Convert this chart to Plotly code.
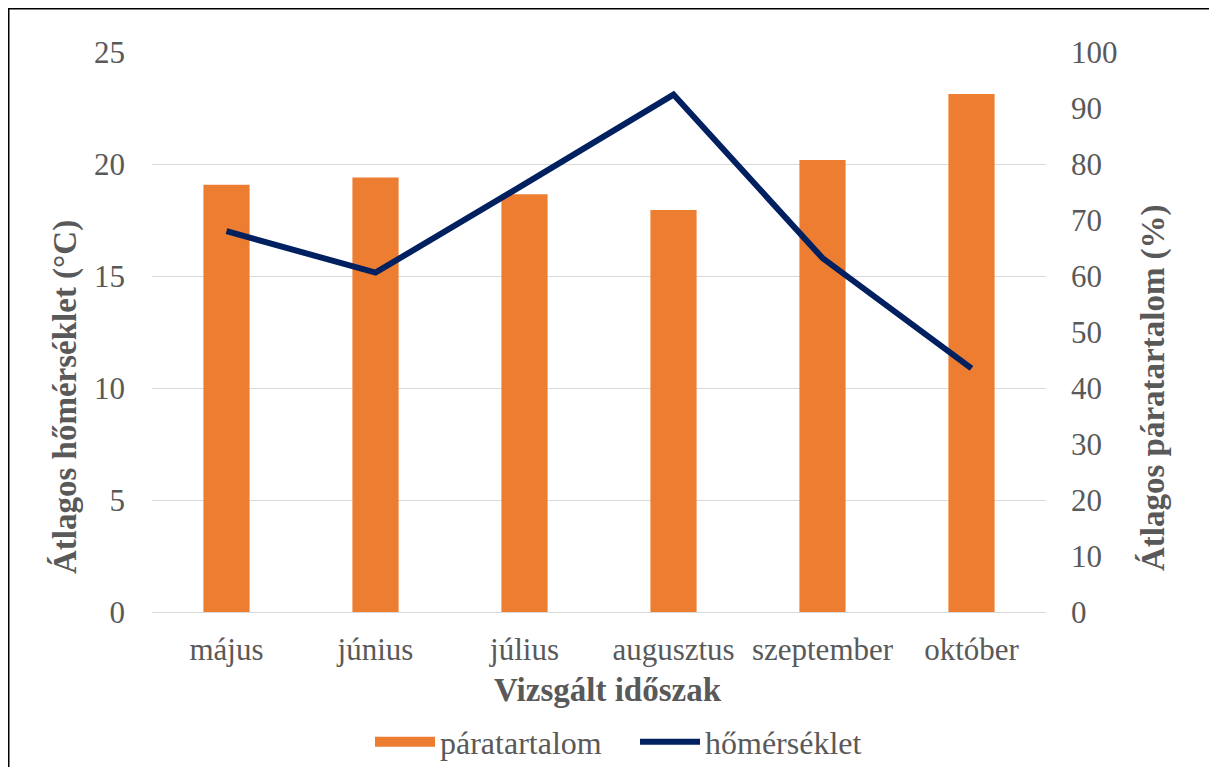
import plotly.graph_objects as go

# months on the x axis
honapok = ["május", "június", "július", "augusztus", "szeptember", "október"]
# average relative humidity, % (bars, right axis)
paratartalom = [76.3, 77.6, 74.6, 71.8, 80.7, 92.5]
# average temperature, °C (line, left axis)
homerseklet = [17.0, 15.15, 19.1, 23.1, 15.8, 10.88]

ORANGE = "#ED7D31"
NAVY = "#002060"
GRAY = "#595959"
FONT = "Liberation Serif"

# the page puts the figure 8px from the top-left corner
OFF = 8
W, H = 1217 - OFF, 767 - OFF
L, R, T, B = 152 - OFF, 171, 52 - OFF, 155
pw, ph = W - L - R, H - T - B


# page pixel -> paper coordinate
def px_x(p):
    return (p - OFF - L) / pw


def px_y(p):
    return (H - B - (p - OFF)) / ph


fig = go.Figure()
fig.add_trace(go.Bar(
    x=honapok, y=paratartalom, name="páratartalom",
    marker=dict(color=ORANGE, line=dict(width=0)),
    width=0.31, yaxis="y", showlegend=False,
))
# legend swatch for the bars (wide rectangle like the original)
fig.add_trace(go.Scatter(
    x=[None], y=[None], name="páratartalom", mode="lines",
    line=dict(color=ORANGE, width=16), yaxis="y", hoverinfo="skip",
))
fig.add_trace(go.Scatter(
    x=honapok, y=homerseklet, name="hőmérséklet", mode="lines",
    line=dict(color=NAVY, width=6), yaxis="y2",
))

title_font = dict(family=FONT, size=33, color=GRAY)

fig.update_layout(
    width=W, height=H,
    margin=dict(l=L, r=R, t=T, b=B, autoexpand=False),
    paper_bgcolor="white", plot_bgcolor="white",
    font=dict(family=FONT, color=GRAY, size=31),
    showlegend=True,
    legend=dict(
        orientation="h", x=px_x(370), xanchor="left",
        y=px_y(742), yanchor="middle",
        font=dict(size=32, color=GRAY), itemwidth=60,
        entrywidth=190, traceorder="normal",
    ),
    xaxis=dict(
        showgrid=False, showline=True, linecolor="#D9D9D9", linewidth=1,
        tickfont=dict(size=31, color=GRAY), ticklabelstandoff=10,
        automargin=False,
    ),
    yaxis=dict(
        side="right", range=[0, 100], dtick=10, showgrid=False, zeroline=False,
        tickfont=dict(size=31, color=GRAY), ticklabelstandoff=24,
        automargin=False,
    ),
    yaxis2=dict(
        side="left", overlaying="y", range=[0, 25], dtick=5,
        showgrid=True, gridcolor="#D9D9D9", gridwidth=1, zeroline=False,
        tickfont=dict(size=31, color=GRAY), ticklabelstandoff=26,
        automargin=False,
    ),
    annotations=[
        dict(text="<b>Vizsgált időszak</b>", xref="paper", yref="paper",
             x=px_x(608), y=px_y(690), xanchor="center", yanchor="middle",
             showarrow=False, font=title_font),
        dict(text="<b>Átlagos hőmérséklet (°C)</b>", xref="paper", yref="paper",
             x=px_x(65), y=px_y(397), xanchor="center", yanchor="middle",
             textangle=-90, showarrow=False, font=title_font),
        dict(text="<b>Átlagos páratartalom (%)</b>", xref="paper", yref="paper",
             x=px_x(1153), y=px_y(388), xanchor="center", yanchor="middle",
             textangle=-90, showarrow=False, font=title_font),
    ],
    shapes=[
        dict(type="line", xref="paper", yref="paper",
             x0=px_x(OFF), x1=px_x(OFF), y0=px_y(800), y1=px_y(OFF),
             line=dict(color="black", width=3)),
        dict(type="line", xref="paper", yref="paper",
             x0=px_x(OFF), x1=px_x(1230), y0=px_y(OFF), y1=px_y(OFF),
             line=dict(color="black", width=3)),
    ],
)

fig.write_html("out.html")
